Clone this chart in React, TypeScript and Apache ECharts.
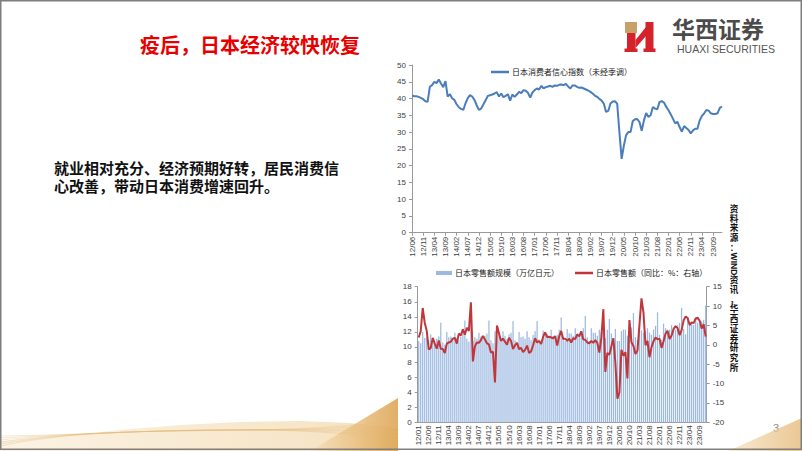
import React, { useEffect, useRef } from "react";
import * as echarts from "echarts";

// ---------- data ----------
const TOP_START_YEAR = 2012;
const TOP_START_MONTH = 6;
const BOTTOM_START_YEAR = 2012;
const BOTTOM_START_MONTH = 1;

// 日本消费者信心指数（未经季调） 2012/06 - 2024/01
const confidence = [
  40.9, 40.7, 40.7, 40.5, 40.2, 39.8, 39.2, 39.0, 43.5, 44.0,
  45.0, 44.6, 45.7, 44.5, 43.4, 45.2, 40.6, 41.3, 40.1, 39.6,
  38.3, 37.4, 36.9, 36.6, 38.6, 40.1, 41.0, 40.6, 39.6, 38.0,
  36.6, 37.0, 38.2, 39.5, 40.8, 41.0, 41.2, 41.5, 41.9, 40.6,
  41.5, 40.4, 40.8, 41.3, 39.4, 41.2, 40.5, 41.2, 42.0, 41.6,
  42.5, 42.3, 41.7, 40.3, 41.8, 42.5, 43.0, 42.7, 43.8, 43.0,
  43.4, 43.6, 43.8, 43.5, 43.9, 43.8, 44.1, 44.2, 44.0, 44.4,
  43.6, 43.0, 43.9, 43.9, 43.5, 43.2, 43.3, 43.0, 42.7, 42.4,
  42.0, 41.5, 40.9, 40.5, 39.9, 39.4, 38.5, 36.0, 36.3, 38.5,
  39.1, 39.2, 38.5, 30.0, 22.0, 26.0, 29.1, 30.0, 30.0, 33.3,
  33.8, 33.9, 33.0, 30.4, 33.5, 35.7, 34.5, 35.0, 37.5, 37.0,
  36.8, 39.0, 39.2, 38.8, 37.5, 36.5, 35.3, 34.0, 32.6, 33.1,
  31.5, 30.1, 31.8, 31.2, 30.6, 29.6, 30.5, 31.0, 31.0, 33.5,
  34.8, 35.6, 36.6, 36.4, 35.6, 35.4, 35.4, 35.6, 37.2, 37.6,
];

// 日本零售额规模（万亿日元） 2012/01 - 2023/12
const retailScale = [
  10.8, 10.5, 12.0, 11.2, 11.3, 10.9, 11.7, 11.2, 10.6, 11.1, 11.4, 13.2,
  10.6, 10.3, 12.0, 11.3, 11.4, 11.1, 11.9, 11.2, 10.9, 11.4, 11.8, 13.5,
  11.1, 10.7, 13.4, 10.8, 11.3, 11.1, 11.9, 11.4, 11.1, 11.5, 11.8, 13.5,
  10.9, 10.5, 12.1, 11.4, 11.7, 11.2, 12.1, 11.5, 11.1, 11.7, 11.9, 13.4,
  10.9, 10.6, 12.0, 11.3, 11.4, 11.1, 12.1, 11.3, 10.9, 11.6, 12.1, 13.4,
  11.0, 10.6, 12.2, 11.7, 11.7, 11.3, 12.3, 11.5, 11.2, 11.6, 12.3, 13.9,
  11.2, 10.8, 12.4, 11.8, 11.8, 11.5, 12.5, 11.8, 11.4, 12.0, 12.5, 14.1,
  11.3, 10.8, 12.5, 11.9, 11.9, 11.5, 12.3, 12.0, 12.8, 11.2, 12.3, 13.7,
  11.8, 11.2, 12.4, 10.8, 10.8, 12.1, 12.3, 12.3, 11.5, 12.7, 12.6, 14.5,
  11.3, 10.9, 13.0, 12.2, 11.9, 12.1, 12.5, 11.9, 11.6, 12.3, 12.8, 14.6,
  11.6, 10.9, 13.1, 12.5, 12.3, 12.3, 12.9, 12.4, 12.3, 12.9, 13.2, 15.2,
  12.4, 11.7, 13.9, 13.0, 13.0, 12.9, 13.7, 13.2, 13.0, 13.4, 13.6, 15.5,
];

// 日本零售额（同比：%：右轴） 2012/01 - 2023/12
const retailYoY = [
  1.9, 3.5, 9.5, 5.7, 3.6, -1.2, -0.8, 1.8, 0.3, -1.0, 1.1, -1.0,
  -1.1, -2.1, 0.3, 0.6, 0.8, 1.6, 1.8, 0.3, 2.9, 2.4, 4.0, 2.6,
  4.4, 3.6, 11.0, -4.3, -0.4, 0.6, 0.5, 1.2, 2.3, 1.4, 0.4, 0.1,
  -2.0, -1.8, -9.7, 5.0, 3.0, 1.0, 1.6, 0.8, 0.0, 1.8, 1.0, -1.1,
  -0.1, 0.5, -1.1, -0.8, -1.9, -1.3, -0.2, -2.1, -1.7, -0.1, 1.7, 0.6,
  1.0, 0.2, 2.1, 3.2, 2.0, 2.1, 1.9, 1.7, 2.2, -0.2, 2.2, 3.6,
  1.5, 1.6, 1.0, 1.6, 0.6, 1.7, 1.5, 2.7, 2.2, 3.5, 1.4, 1.3,
  0.6, 0.4, 1.0, 0.5, 1.2, 0.5, -2.0, 1.8, 9.2, -7.0, -2.1, -2.6,
  -0.4, 1.7, -4.7, -13.9, -12.3, -1.3, -2.8, -1.9, -8.7, 6.4, 0.7, -0.3,
  -2.4, -1.5, 5.2, 12.0, 8.3, -0.1, 1.0, -3.2, -0.6, 0.9, 1.9, 1.4,
  1.6, -0.8, 0.9, 2.9, 3.6, 1.5, 2.4, 4.1, 4.8, 4.3, 2.5, 3.8,
  6.3, 7.3, 6.9, 5.1, 5.8, 5.6, 6.8, 7.0, 6.2, 4.2, 5.3, 2.1,
];

const TITLE = "疫后，日本经济较快恢复";
const BODY_LINES = ["就业相对充分、经济预期好转，居民消费信", "心改善，带动日本消费增速回升。"];
const SOURCE_A = "资料来源：";
const SOURCE_LATIN = "WIND";
const SOURCE_B = "资讯，华西证券研究所";
const TOP_SERIES = "日本消费者信心指数（未经季调）";
const BAR_SERIES = "日本零售额规模（万亿日元）";
const YOY_SERIES = "日本零售额（同比：%：右轴）";

function monthLabels(y0: number, m0: number, n: number): string[] {
  const out: string[] = [];
  for (let i = 0; i < n; i++) {
    const m = m0 - 1 + i;
    const y = y0 + Math.floor(m / 12);
    const mm = (m % 12) + 1;
    out.push(`${String(y % 100).padStart(2, "0")}/${String(mm).padStart(2, "0")}`);
  }
  return out;
}

const topCats = monthLabels(TOP_START_YEAR, TOP_START_MONTH, confidence.length);
const bottomCats = monthLabels(BOTTOM_START_YEAR, BOTTOM_START_MONTH, retailScale.length);

const CJK = '"Noto Sans CJK SC", sans-serif';
const TIGHT = '"Liberation Sans", "Noto Sans CJK SC", sans-serif';
const LAT = '"Liberation Sans", Arial, sans-serif';
const AXIS_COLOR = "#9a9a9a";
const LABEL_COLOR = "#404040";

function verticalSource(): any[] {
  const cx = 734;
  const pitch = 9.7;
  const top = 204;
  const font = { fontSize: 8.6, fontWeight: "bold", fontFamily: TIGHT, fill: "#111" };
  const aLen = SOURCE_A.length * pitch;
  const latinLen = 23;
  const bTop = top + aLen + latinLen;
  return [
    {
      type: "text",
      x: cx,
      y: top,
      style: { ...font, lineHeight: pitch, text: SOURCE_A.split("").join("\n"), textAlign: "center", textVerticalAlign: "top" },
    },
    {
      type: "text",
      x: cx,
      y: top + aLen + latinLen / 2,
      rotation: -Math.PI / 2,
      style: { ...font, fontFamily: LAT, text: SOURCE_LATIN, textAlign: "center", textVerticalAlign: "middle" },
    },
    {
      type: "text",
      x: cx,
      y: bTop,
      style: { ...font, lineHeight: pitch, text: SOURCE_B.split("").join("\n"), textAlign: "center", textVerticalAlign: "top" },
    },
  ];
}

function decorations(): any[] {
  const gold = (a: string, b: string) =>
    new echarts.graphic.LinearGradient(0, 0, 1, 0, [
      { offset: 0, color: a },
      { offset: 1, color: b },
    ]);
  const els: any[] = [
    {
      type: "polygon",
      z: 1,
      shape: {
        points: [[0, 441], [60, 436], [120, 430], [180, 425], [240, 422], [300, 421], [350, 423], [398, 428], [398, 451], [0, 451]],
      },
      style: { fill: gold("#fbf1df", "#f3dcb4"), opacity: 0.85 },
    },
    {
      type: "polygon",
      z: 2,
      shape: { points: [[310, 451], [398, 398], [398, 451]] },
      style: { fill: gold("#f6e1bd", "#dca14c"), opacity: 0.85 },
    },
    {
      type: "polygon",
      z: 1,
      shape: { points: [[728, 451], [802, 418], [802, 451]] },
      style: { fill: gold("#f7e6c9", "#e6b978"), opacity: 0.8 },
    },
  ];
  for (let k = 0; k < 6; k++) {
    els.push({
      type: "bezierCurve",
      z: 2,
      shape: { x1: 0, y1: 446 - k * 2, cpx1: 120, cpy1: 420 + k * 3, cpx2: 260, cpy2: 440 - k * 4, x2: 398, y2: 420 + k * 4 },
      style: { stroke: "#e2b877", lineWidth: 0.6, fill: null, opacity: 0.55 },
    });
  }
  return els;
}

function logo(): any[] {
  const red = "#d4232b";
  const goldC = "#c7a06a";
  return [
    { type: "rect", shape: { x: 625, y: 22, width: 12, height: 11 }, style: { fill: goldC } },
    { type: "rect", shape: { x: 627, y: 33, width: 8.5, height: 16 }, style: { fill: red } },
    { type: "rect", shape: { x: 624.5, y: 48.5, width: 13, height: 3.5 }, style: { fill: red } },
    { type: "polygon", shape: { points: [[635.5, 40], [646, 27], [646, 36], [635.5, 48]] }, style: { fill: red } },
    { type: "rect", shape: { x: 645.5, y: 22, width: 8, height: 27 }, style: { fill: red } },
    { type: "rect", shape: { x: 643.5, y: 48.5, width: 12, height: 3.5 }, style: { fill: red } },
    {
      type: "text",
      x: 672,
      y: 29.5,
      style: { text: "华西证券", fontSize: 23, fontWeight: "bold", fontFamily: TIGHT, fill: "#4b4b4b", textVerticalAlign: "middle" },
    },
    {
      type: "text",
      x: 677,
      y: 49,
      style: { text: "HUAXI SECURITIES", fontSize: 10.5, fontFamily: LAT, fill: "#555", textVerticalAlign: "middle" },
    },
  ];
}

export default function App() {
  const ref = useRef<HTMLDivElement>(null);

  useEffect(() => {
    if (!ref.current) return;
    const chart = echarts.init(ref.current, undefined, { renderer: "svg" });

    const axisLabelBase = { fontSize: 8, color: LABEL_COLOR, fontFamily: LAT };

    const option: any = {
      animation: false,
      backgroundColor: "#ffffff",
      textStyle: { fontFamily: LAT },
      grid: [
        { left: 412, top: 65, width: 310, height: 167.7, containLabel: false },
        { left: 417.7, top: 286.7, width: 289, height: 135.6, containLabel: false },
      ],
      legend: [
        {
          data: [TOP_SERIES],
          left: 486,
          top: 63,
          itemWidth: 18,
          itemHeight: 2.5,
          icon: "rect",
          textStyle: { fontSize: 8, fontFamily: CJK, color: "#222", padding: [0, 0, 0, -2] },
        },
        {
          data: [BAR_SERIES],
          left: 431,
          top: 264,
          itemWidth: 16,
          itemHeight: 4,
          icon: "rect",
          textStyle: { fontSize: 8, fontFamily: CJK, color: "#222", padding: [0, 0, 0, -2] },
        },
        {
          data: [YOY_SERIES],
          left: 570,
          top: 264,
          itemWidth: 18,
          itemHeight: 2.5,
          icon: "rect",
          textStyle: { fontSize: 8, fontFamily: CJK, color: "#222", padding: [0, 0, 0, -2] },
        },
      ],
      xAxis: [
        {
          type: "category",
          gridIndex: 0,
          data: topCats,
          boundaryGap: false,
          axisLine: { lineStyle: { color: AXIS_COLOR, width: 1 } },
          axisTick: { show: true, interval: 4, length: 3, lineStyle: { color: AXIS_COLOR } },
          axisLabel: { ...axisLabelBase, interval: 4, rotate: 90, margin: 4 },
          splitLine: { show: false },
        },
        {
          type: "category",
          gridIndex: 1,
          data: bottomCats,
          boundaryGap: true,
          axisLine: { lineStyle: { color: AXIS_COLOR, width: 1 } },
          axisTick: { show: false },
          axisLabel: { ...axisLabelBase, interval: 4, rotate: 90, margin: 3 },
          splitLine: { show: false },
        },
      ],
      yAxis: [
        {
          type: "value",
          gridIndex: 0,
          min: 0,
          max: 50,
          interval: 5,
          axisLine: { show: true, lineStyle: { color: AXIS_COLOR } },
          axisTick: { show: true, length: 3, lineStyle: { color: AXIS_COLOR } },
          axisLabel: { ...axisLabelBase, margin: 6 },
          splitLine: { show: false },
        },
        {
          type: "value",
          gridIndex: 1,
          position: "left",
          min: 0,
          max: 18,
          interval: 2,
          axisLine: { show: true, lineStyle: { color: AXIS_COLOR } },
          axisTick: { show: true, length: 3, lineStyle: { color: AXIS_COLOR } },
          axisLabel: { ...axisLabelBase, margin: 6 },
          splitLine: { show: false },
        },
        {
          type: "value",
          gridIndex: 1,
          position: "right",
          min: -20,
          max: 15,
          interval: 5,
          axisLine: { show: true, lineStyle: { color: AXIS_COLOR } },
          axisTick: { show: true, length: 3, lineStyle: { color: AXIS_COLOR } },
          axisLabel: { ...axisLabelBase, margin: 6 },
          splitLine: { show: false },
        },
      ],
      series: [
        {
          name: TOP_SERIES,
          type: "line",
          xAxisIndex: 0,
          yAxisIndex: 0,
          data: confidence,
          symbol: "none",
          lineStyle: { color: "#4a7ebb", width: 2 },
          itemStyle: { color: "#4a7ebb" },
        },
        {
          name: BAR_SERIES,
          type: "bar",
          xAxisIndex: 1,
          yAxisIndex: 1,
          data: retailScale,
          barWidth: "62%",
          itemStyle: { color: "#9bb9e1" },
        },
        {
          name: YOY_SERIES,
          type: "line",
          xAxisIndex: 1,
          yAxisIndex: 2,
          data: retailYoY,
          symbol: "none",
          lineStyle: { color: "#c0373a", width: 2 },
          itemStyle: { color: "#c0373a" },
          z: 5,
        },
      ],
      graphic: [
        ...decorations(),
        ...logo(),
        {
          type: "text",
          x: 140,
          y: 44,
          style: { text: TITLE, fontSize: 20, fontWeight: "bold", fontFamily: CJK, fill: "#e60000", textVerticalAlign: "middle" },
        },
        {
          type: "text",
          x: 54,
          y: 160,
          style: {
            text: BODY_LINES.join("\n"),
            fontSize: 15,
            lineHeight: 17.5,
            fontWeight: "bold",
            fontFamily: TIGHT,
            fill: "#111",
            textVerticalAlign: "top",
          },
        },
        ...verticalSource(),
        {
          type: "text",
          x: 776,
          y: 428,
          style: { text: "3", fontSize: 11, fontFamily: LAT, fill: "#8a8a8a", textAlign: "center", textVerticalAlign: "middle" },
        },
        {
          type: "rect",
          z: 100,
          shape: { x: 0.75, y: 0.75, width: 800.5, height: 448.5 },
          style: { fill: null, stroke: "#7f7f7f", lineWidth: 1.5 },
        },
      ],
    };

    chart.setOption(option);
    return () => chart.dispose();
  }, []);

  return (
    <div
      ref={ref}
      style={{ position: "fixed", left: 0, top: 0, width: 802, height: 451, background: "#fff" }}
    />
  );
}
